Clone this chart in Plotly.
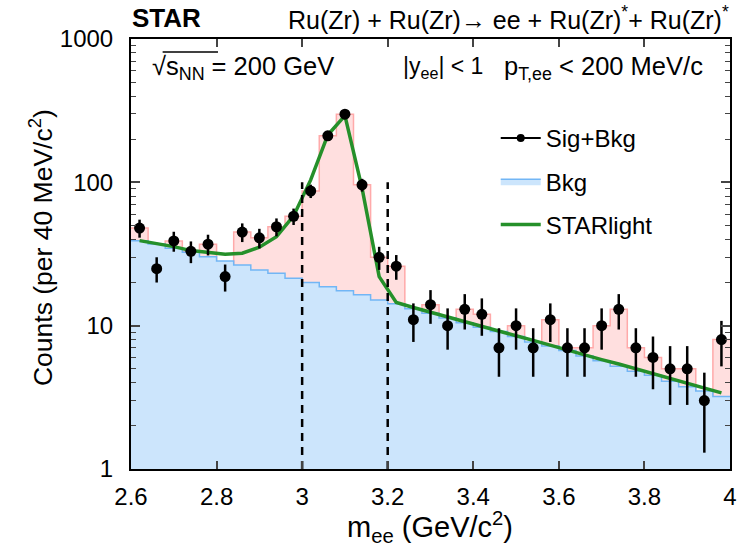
import plotly.graph_objects as go

# Invariant-mass binning (GeV/c^2)
BIN_START = 2.60
BIN_WIDTH = 0.04
N_BINS = 35

# Measured counts per bin (Sig+Bkg) and their uncertainties
SIG_BKG = [48, 25, 39, 33, 37, 22, 45, 41, 49, 58, 87, 211, 299, 96, 30, 26, 11, 14,
           10, 13, 12, 7, 10, 7, 11, 7, 7, 10, 13, 7, 6, 5, 5, 3, 8]
SIG_BKG_ERR = [6.9, 5.0, 6.2, 5.7, 6.1, 4.7, 6.7, 6.4, 7.0, 7.6, 9.3, 14.5, 17.3, 9.8, 5.5,
               5.1, 3.3, 3.7, 3.2, 3.6, 3.5, 2.6, 3.2, 2.6, 3.3, 2.6, 2.6, 3.2, 3.6, 2.6,
               2.4, 2.2, 2.2, 1.7, 2.8]

# Background estimate per bin
BKG = [39.2, 37.2, 34.7, 32.5, 30.3, 28.3, 26.5, 24.5, 23.2, 21.4, 20.0, 18.7, 17.5, 16.4,
       15.1, 14.2, 13.1, 12.2, 11.3, 10.5, 9.75, 9.1, 8.4, 7.7, 7.2, 6.7, 6.15, 5.7, 5.2,
       4.8, 4.5, 4.1, 3.75, 3.5, 3.2]

# STARlight expectation evaluated at the bin centres
STARLIGHT = [39.2, 37.6, 35.6, 33.4, 32.3, 31.5, 32.0, 35.3, 41.8, 58.3, 104, 214, 292, 91,
             22, 14.5, 13.4, 12.4, 11.5, 10.7, 9.9, 9.2, 8.5, 7.9, 7.3, 6.8, 6.3, 5.8, 5.4,
             5.0, 4.6, 4.3, 4.0, 3.7, 3.4]

# J/psi mass window
WINDOW = [3.0, 3.2]
WINDOW_TOP = 100

edges = [round(BIN_START + i * BIN_WIDTH, 4) for i in range(N_BINS + 1)]
centers = [round(BIN_START + (i + 0.5) * BIN_WIDTH, 4) for i in range(N_BINS)]


def steps(values):
    return edges, list(values) + [values[-1]]


FONT = "Liberation Sans, Arial, Helvetica, sans-serif"
fig = go.Figure()

sx, sy = steps(SIG_BKG)
fig.add_trace(go.Scatter(x=sx, y=sy, mode="lines", line=dict(shape="hv", color="#ffaaaa", width=1.5),
                         fill="tozeroy", fillcolor="#ffdfdf", showlegend=False, hoverinfo="skip"))

bx, by = steps(BKG)
fig.add_trace(go.Scatter(x=bx, y=by, mode="lines", line=dict(shape="hv", color="#72b6f5", width=1.5),
                         fill="tozeroy", fillcolor="#cce5fc", name="Bkg", legendgroup="b",
                         legendrank=2))

fig.add_trace(go.Scatter(x=centers, y=STARLIGHT, mode="lines", line=dict(color="#25902a", width=3.5),
                         name="STARlight", legendgroup="c", legendrank=3))

for xv in WINDOW:
    fig.add_trace(go.Scatter(x=[xv, xv], y=[1, WINDOW_TOP], mode="lines",
                             line=dict(color="black", width=2.5, dash="8px,6px"),
                             showlegend=False, hoverinfo="skip"))

fig.add_trace(go.Scatter(x=centers, y=SIG_BKG, mode="markers",
                         marker=dict(color="black", size=11),
                         error_y=dict(type="data", array=SIG_BKG_ERR, color="black", thickness=2.5, width=0),
                         showlegend=False))
# legend entry for the measured points
fig.add_trace(go.Scatter(x=[None], y=[None], mode="lines+markers", line=dict(color="black", width=2),
                         marker=dict(color="black", size=8), name="Sig+Bkg", legendgroup="a",
                         legendrank=1))

W, H = 748, 548
L, R, T, B = 131, 11, 39, 79
PW, PH = W - L - R, H - T - B


def px(x):
    return (x - L) / PW


def py(y):
    return (H - B - y) / PH


ann = [
    dict(text="<b>STAR</b>", x=px(130), y=py(18), xanchor="left", yanchor="middle", font=dict(size=26)),
    dict(text="Ru(Zr) + Ru(Zr)\u2192 ee + Ru(Zr)<sup>*</sup>+ Ru(Zr)<sup>*</sup>", x=px(738), y=py(18),
         xanchor="right", yanchor="middle", font=dict(size=25)),
    dict(text="\u221as<sub>NN</sub> = 200 GeV", x=px(150), y=py(68), xanchor="left", yanchor="middle",
         font=dict(size=25.5)),
    dict(text="|y<sub>ee</sub>| < 1", x=px(404), y=py(68), xanchor="left", yanchor="middle",
         font=dict(size=23)),
    dict(text="p<sub>T,ee</sub> < 200 MeV/c", x=px(712), y=py(68), xanchor="right", yanchor="middle",
         font=dict(size=25.5)),
    dict(text="Counts (per 40 MeV/c<sup>2</sup>)", x=px(40), y=py(248), textangle=-90, xanchor="center",
         yanchor="middle", font=dict(size=26.5)),
    dict(text="m<sub>ee</sub> (GeV/c<sup>2</sup>)", x=px(433), y=py(527), xanchor="center", yanchor="middle",
         font=dict(size=29)),
]
for a in ann:
    a.update(xref="paper", yref="paper", showarrow=False)
    a["font"].update(family=FONT, color="black")

fig.update_layout(
    width=W, height=H, margin=dict(l=L, r=R, t=T, b=B),
    paper_bgcolor="white", plot_bgcolor="white",
    font=dict(family=FONT, color="black", size=24),
    annotations=ann,
    shapes=[dict(type="line", xref="paper", yref="paper", x0=px(163), x1=px(219), y0=py(52), y1=py(52),
                 line=dict(color="black", width=1.5))],
    legend=dict(x=px(500), y=py(116), xanchor="left", yanchor="top", bgcolor="rgba(0,0,0,0)",
                font=dict(size=24, family=FONT), tracegroupgap=9, itemwidth=40),
    xaxis=dict(range=[2.6, 4.0], dtick=0.2, tick0=2.6, ticks="inside", ticklen=8, tickwidth=1.5,
               showline=True, linewidth=2, linecolor="black", mirror="allticks", showgrid=False,
               zeroline=False, tickfont=dict(size=24), ticklabelstandoff=5),
    yaxis=dict(type="log", range=[0, 3], dtick=1, ticks="inside", ticklen=9, tickwidth=1.5,
               showline=True, linewidth=2, linecolor="black", mirror="allticks", showgrid=False,
               zeroline=False, tickfont=dict(size=24), ticklabelstandoff=11,
               minor=dict(ticks="inside", ticklen=5, tickwidth=1.2, showgrid=False)),
)

fig.write_html("out.html")
